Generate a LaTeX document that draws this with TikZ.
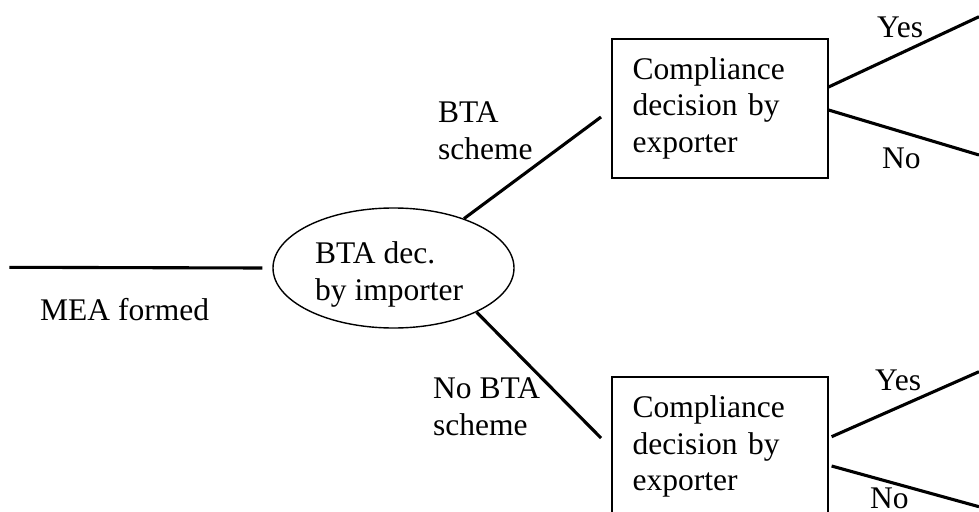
\documentclass[tikz,border=0pt]{standalone}
\usepackage{fontspec}
\setmainfont{Liberation Serif}
\usetikzlibrary{shapes.geometric,calc}
\begin{document}
\begin{tikzpicture}[x=1pt,y=-1pt,
  txt/.style={font=\fontsize{31.5}{36.7}\selectfont, inner sep=0pt, align=left},
  branch/.style={line width=3.1pt},
  decbox/.style={draw, line width=1.9pt, minimum width=216pt, minimum height=139pt,
    text width=174pt, inner xsep=21pt, inner ysep=0pt, align=left,
    font=\fontsize{31.5}{36.7}\selectfont, anchor=north west},
  chance/.style={draw, ellipse, line width=1.4pt, minimum width=241pt, minimum height=120pt, inner sep=0pt}]
\useasboundingbox (0,0) rectangle (979,511);
\clip (0,0) rectangle (979,511);
% nodes
\node[chance] (imp) at (393.5,268) {};
\node[txt, anchor=base west] (imptxt) at (315,300) {BTA dec.\\by importer};
\node[decbox] (box1) at (610.7,37.7) {Compliance\\decision by\\exporter};
\node[decbox] (box2) at (610.7,376) {Compliance\\decision by\\exporter};
% labels
\node[txt, anchor=base west] (mea) at (40,320) {MEA formed};
\node[txt, anchor=base west] (bta) at (438,159) {BTA\\scheme};
\node[txt, anchor=base west] (nobta) at (433,435) {No BTA\\scheme};
\node[txt, anchor=base west] (yes1) at (877,37.7) {Yes};
\node[txt, anchor=base west] (no1) at (882,168.3) {No};
\node[txt, anchor=base west] (yes2) at (875,390.7) {Yes};
\node[txt, anchor=base west] (no2) at (870,508) {No};
% coordinates
\coordinate (start) at (9.3,267.3);
\coordinate (u1) at (601,117);
\coordinate (l1) at (601,438);
\coordinate (y1end) at (979,16.7);
\coordinate (n1end) at (979,155);
\coordinate (y2end) at (979,371.7);
\coordinate (n2end) at (979,506.7);
% connectors
\draw[branch] (start) -- ([xshift=-10pt]imp.west);
\draw[branch] (imp.35) -- (u1);
\draw[branch] (imp.-28) -- (l1);
\draw[branch] ($(box1.north east)+(0,49.3)$) -- (y1end);
\draw[branch] ($(box1.north east)+(0,72.3)$) -- (n1end);
\draw[branch] ($(box2.north east)+(3,60.7)$) -- (y2end);
\draw[branch] ($(box2.north east)+(3,90)$) -- (n2end);
\end{tikzpicture}
\end{document}
